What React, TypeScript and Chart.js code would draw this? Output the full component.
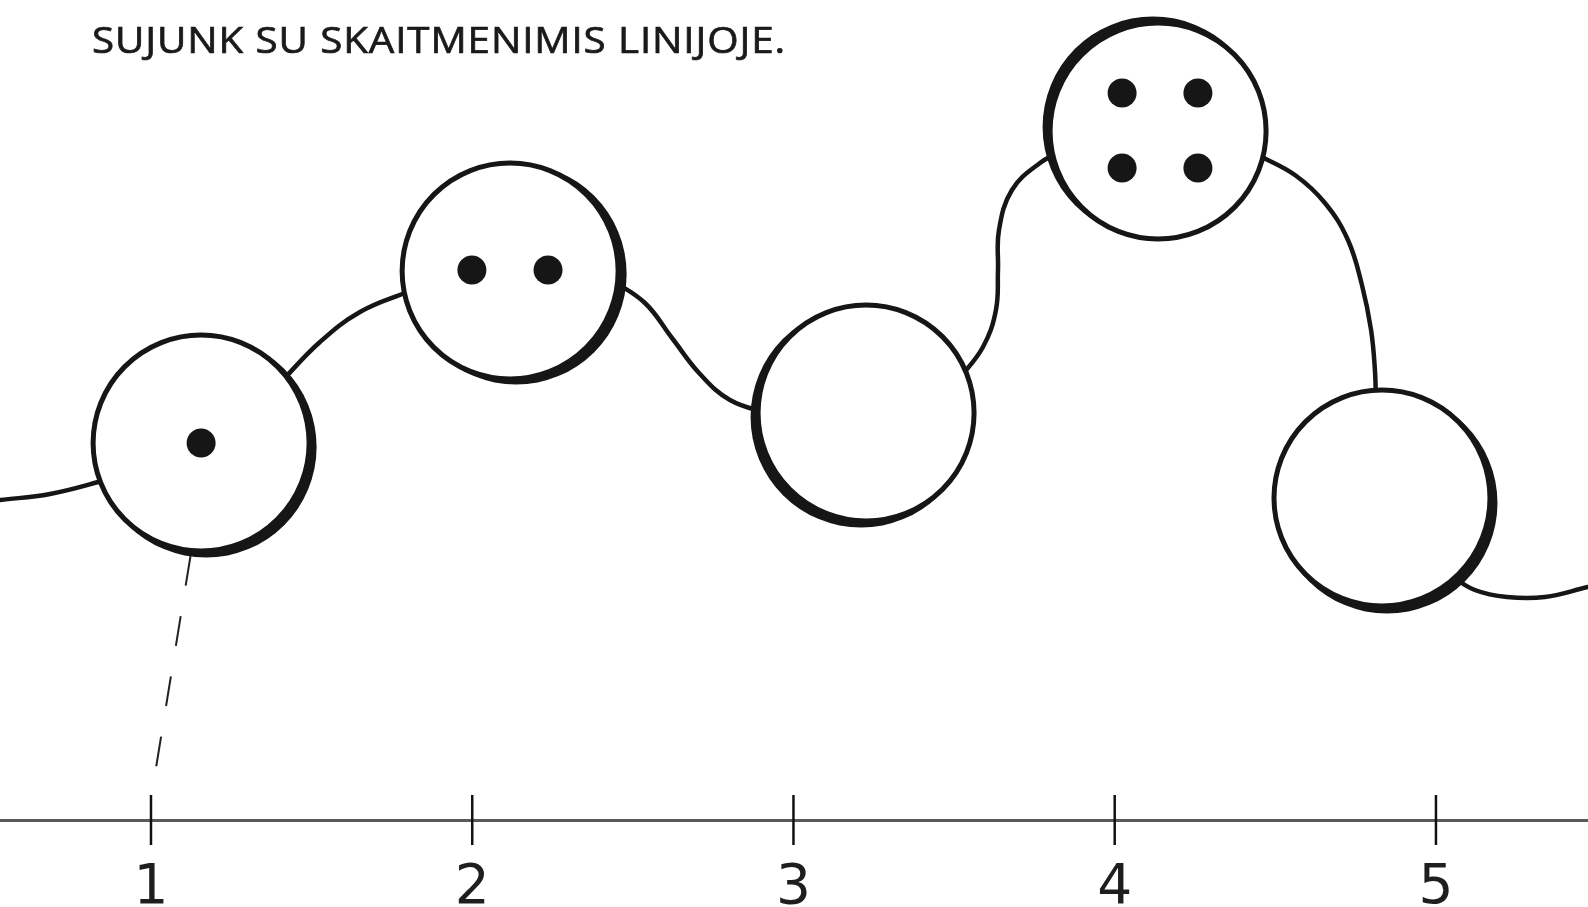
import { useEffect, useRef } from "react";
import { Chart, registerables } from "chart.js";

Chart.register(...registerables);

// ---- content / values ----
const titleText = "SUJUNK SU SKAITMENIMIS LINIJOJE.";

// number line (x axis, in number-line units)
const tickValues = [1, 2, 3, 4, 5];
const tickLabels = ["1", "2", "3", "4", "5"];
const xMin = 0.53;
const xMax = 5.4733;
const yMin = 0;
const yMax = 82;

// circle centres (x in number-line units, y in height units above the number line)
const circleX = [1.156, 2.118, 3.226, 4.135, 4.832];
const circleY = [37.7, 54.9, 40.7, 68.9, 32.2];

// dots inside circles: 1, 2, 0, 4, 0
const dotX = [1.156, 1.999, 2.236, 4.023, 4.259, 4.023, 4.259];
const dotY = [37.7, 55.0, 55.0, 72.7, 72.7, 65.2, 65.2];

// the wavy path (null = hidden behind a circle)
const curveX = [
  0.53, 0.6856, 0.872, null,
  1.4016, 1.526, 1.6506, 1.806, null,
  2.4288, 2.5377, 2.6218, 2.709, 2.8023, 2.927, null,
  3.512, 3.5899, 3.6303, 3.6366, 3.6397, 3.6801, 3.7673, 3.8451, null,
  4.446, 4.561, 4.6544, 4.726, 4.7696, 4.798, 4.81, 4.8132, null,
  5.0435, 5.121, 5.221, 5.3392, 5.4733,
];
const curveY = [
  32.0, 32.6, 34.1, null,
  43.7, 47.8, 50.8, 52.9, null,
  54.1, 51.7, 48.2, 44.6, 42.0, 40.6, null,
  44.0, 47.3, 51.0, 55.0, 59.0, 63.0, 65.7, 67.0, null,
  66.5, 64.5, 61.7, 58.0, 53.5, 49.0, 45.0, 42.0, null,
  24.5, 23.0, 22.3, 22.3, 23.3,
];

// example dashed connection: circle 1 -> tick 1
const dashX = [1.123, 1.012];
const dashY = [26.4, 4.5];

// ---- style ----
const INK = "#161616";
const PX_PER_X = 321.25;
const PX_PER_Y = 10;
const shadowDxPx = [5, 6, -5, -5, 5];
const shadowDyPx = [4, 3, 4, -4, 5];

export default function App() {
  const canvasRef = useRef<HTMLCanvasElement | null>(null);

  useEffect(() => {
    document.body.style.margin = "0";
    const canvas = canvasRef.current;
    if (!canvas) return;

    const circles = circleX.map((x, i) => ({ x, y: circleY[i] }));
    const shadows = circleX.map((x, i) => ({
      x: x + shadowDxPx[i] / PX_PER_X,
      y: circleY[i] - shadowDyPx[i] / PX_PER_Y,
    }));
    const dots = dotX.map((x, i) => ({ x, y: dotY[i] }));
    const curve = curveX.map((x, i) => ({
      x: x === null ? NaN : x,
      y: curveY[i] === null ? NaN : (curveY[i] as number),
    }));
    const dash = dashX.map((x, i) => ({ x, y: dashY[i] }));
    const ticks = tickValues.map((x) => ({ x, y: 0 }));

    const chart = new Chart(canvas, {
      type: "scatter",
      data: {
        datasets: [
          {
            label: "dots",
            data: dots,
            order: 0,
            pointRadius: 14.5,
            pointBackgroundColor: INK,
            pointBorderWidth: 0,
            clip: false,
          },
          {
            label: "circles",
            data: circles,
            order: 1,
            pointRadius: 108,
            pointBackgroundColor: "#ffffff",
            pointBorderColor: INK,
            pointBorderWidth: 5,
            clip: false,
          },
          {
            label: "shadows",
            data: shadows,
            order: 2,
            pointRadius: 110.5,
            pointBackgroundColor: INK,
            pointBorderWidth: 0,
            clip: false,
          },
          {
            label: "curve",
            data: curve,
            order: 3,
            showLine: true,
            spanGaps: false,
            tension: 0.4,
            borderColor: INK,
            borderWidth: 4.5,
            borderCapStyle: "round",
            borderJoinStyle: "round",
            pointRadius: 0,
            clip: false,
          },
          {
            label: "dash",
            data: dash,
            order: 4,
            showLine: true,
            borderColor: "#222",
            borderWidth: 2,
            borderDash: [30, 31],
            pointRadius: 0,
            clip: false,
          },
          {
            label: "ticks",
            data: ticks,
            order: 5,
            pointStyle: "line",
            rotation: 90,
            pointRadius: 25,
            pointBorderColor: "#111",
            pointBorderWidth: 2.5,
            clip: false,
          },
        ],
      },
      options: {
        animation: false,
        responsive: true,
        maintainAspectRatio: false,
        events: [],
        layout: { padding: 0, autoPadding: false },
        plugins: {
          legend: { display: false },
          tooltip: { enabled: false },
          title: { display: false },
        },
        scales: {
          x: {
            type: "linear",
            position: "bottom",
            min: xMin,
            max: xMax,
            afterBuildTicks: (scale: any) => {
              scale.ticks = tickValues.map((v) => ({ value: v }));
            },
            afterFit: (scale: any) => {
              scale.height = 87;
            },
            ticks: {
              autoSkip: false,
              maxRotation: 0,
              minRotation: 0,
              padding: 36,
              color: "#1e1e1e",
              font: { family: "'DejaVu Sans'", size: 55 },
              callback: (_v: any, i: number) => tickLabels[i],
            },
            grid: {
              display: true,
              color: "rgba(0,0,0,0)",
              drawOnChartArea: false,
              drawTicks: false,
            },
            border: { display: true, color: "#5a5a5a", width: 3 },
          },
          y: {
            type: "linear",
            display: false,
            min: yMin,
            max: yMax,
          },
        },
      },
    } as any);

    return () => {
      chart.destroy();
    };
  }, []);

  return (
    <div style={{ position: "relative", width: 1588, height: 907, background: "#fff" }}>
      <canvas ref={canvasRef} />
      <div
        style={{
          position: "absolute",
          left: 92,
          top: 22,
          fontFamily: "'Open Sans', sans-serif",
          fontSize: 36,
          lineHeight: "36px",
          letterSpacing: "0.8px",
          transform: "scaleX(1.12)",
          transformOrigin: "left top",
          color: "#1a1a1a",
          WebkitTextStroke: "0.7px #1a1a1a",
          whiteSpace: "nowrap",
        }}
      >
        {titleText}
      </div>
    </div>
  );
}
